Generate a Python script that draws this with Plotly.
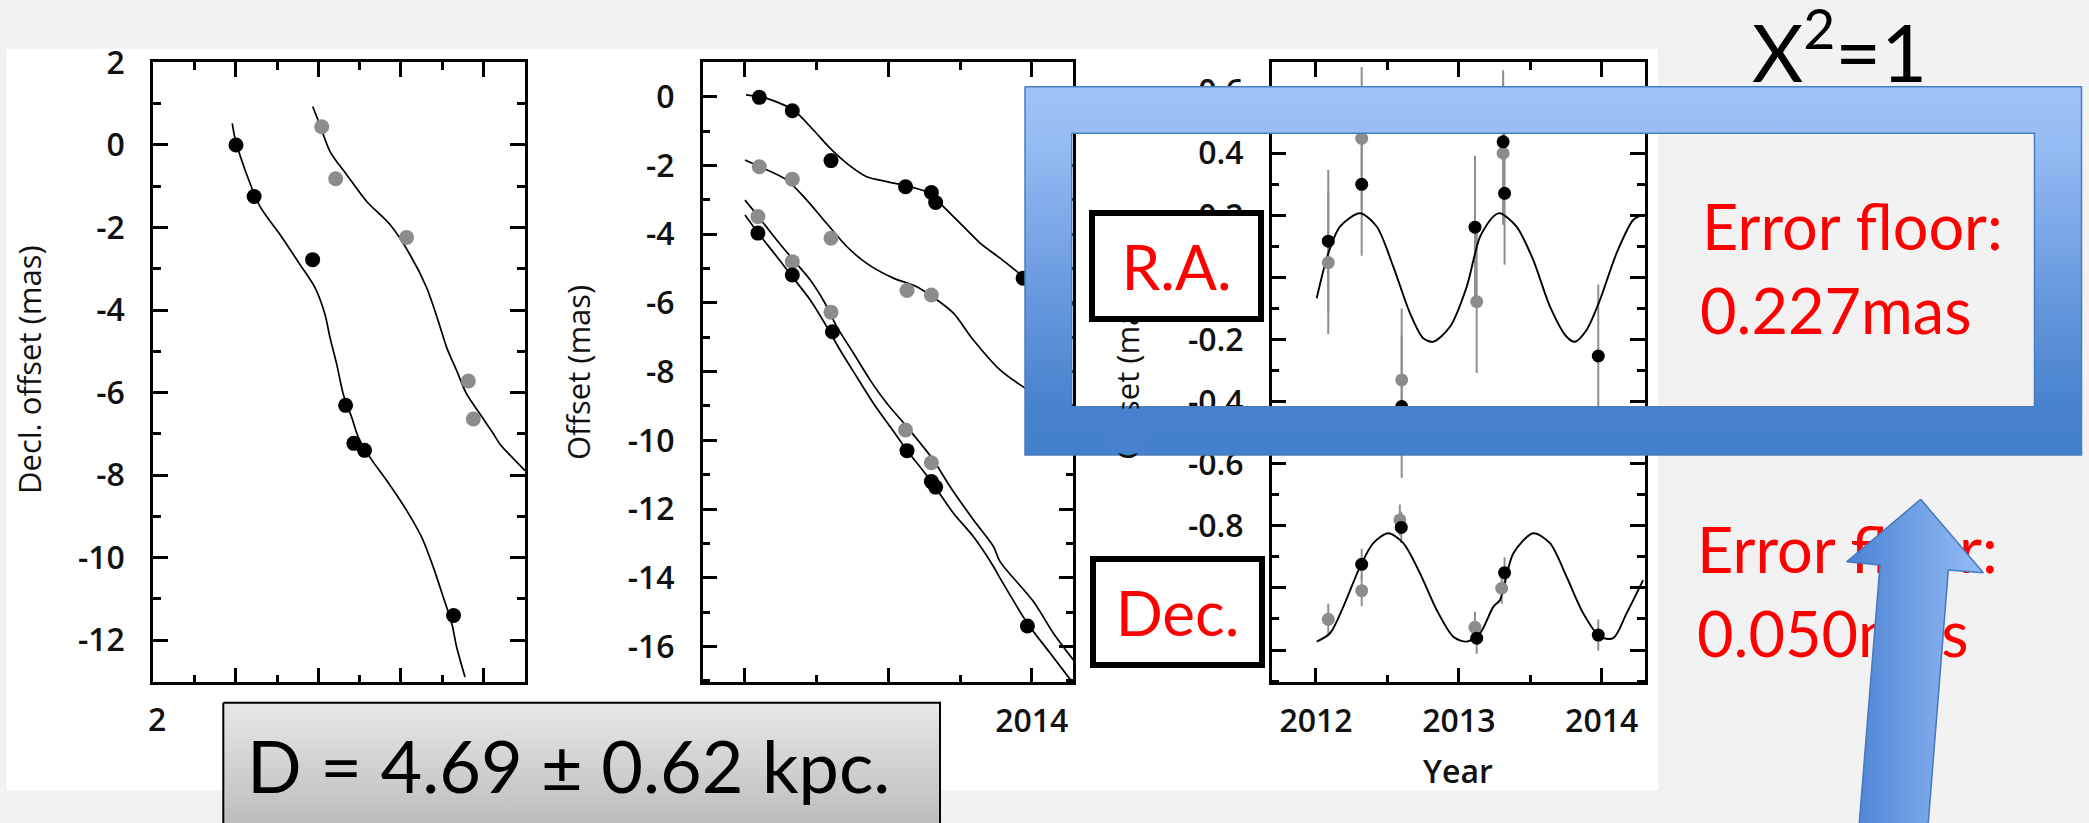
import plotly.graph_objects as go

W, H = 2089, 823

# ---------------- data ----------------
# Panel 1: sky plot (x in R.A.-offset units, y = Decl. offset, mas)
p1_black_x = [0.0, 0.22, 0.93, 1.33, 1.43, 1.56, 2.64]
p1_black_y = [0.0, -1.25, -2.78, -6.31, -7.23, -7.40, -11.40]
p1_gray_x = [1.04, 1.21, 2.07, 2.82, 2.88]
p1_gray_y = [0.44, -0.82, -2.24, -5.72, -6.64]
p1_fit_black_x = [-0.045, -0.012, 0.109, 0.291, 0.534, 0.777, 0.959, 1.080, 1.141, 1.222, 1.302,
                  1.404, 1.484, 1.626, 1.829, 2.072, 2.254, 2.394, 2.516, 2.618, 2.678, 2.779]
p1_fit_black_y = [0.52, 0.16, -0.60, -1.49, -2.17, -2.90, -3.46, -4.11, -4.67, -5.31, -6.04,
                  -6.60, -7.08, -7.57, -8.13, -8.86, -9.51, -10.23, -10.96, -11.59, -12.17, -12.89]
p1_fit_gray_x = [0.931, 1.019, 1.141, 1.343, 1.586, 1.869, 2.112, 2.314, 2.455, 2.557, 2.678,
                 2.800, 2.961, 3.123, 3.204, 3.507]
p1_fit_gray_y = [0.93, 0.48, -0.16, -0.72, -1.37, -1.93, -2.66, -3.46, -4.27, -4.91, -5.47,
                 -6.04, -6.52, -7.00, -7.25, -7.89]
p1_y_ticks = [2, 0, -2, -4, -6, -8, -10, -12]
p1_y_ticklabels = ["2", "0", "-2", "-4", "-6", "-8", "-10", "-12"]
p1_x_ticks = [0, 1, 2, 3]
p1_x_label = "2"

# Panel 2: offsets vs time
p2_t_black1 = [2012.10, 2012.33, 2012.60, 2013.12, 2013.30, 2013.33, 2013.94]
p2_y_black1 = [-0.02, -0.41, -1.86, -2.62, -2.79, -3.08, -5.28]
p2_t_gray2 = [2012.10, 2012.33, 2012.60, 2013.13, 2013.30]
p2_y_gray2 = [-2.04, -2.40, -4.12, -5.64, -5.77]
p2_t_gray3 = [2012.09, 2012.33, 2012.60, 2013.12, 2013.30]
p2_y_gray3 = [-3.49, -4.80, -6.27, -9.70, -10.65]
p2_t_black4 = [2012.09, 2012.33, 2012.61, 2013.13, 2013.30, 2013.33, 2013.97]
p2_y_black4 = [-3.97, -5.19, -6.84, -10.30, -11.20, -11.36, -15.40]
p2_fit1_t = [2012.007, 2012.151, 2012.337, 2012.477, 2012.593, 2012.710, 2012.849, 2012.989,
             2013.151, 2013.291, 2013.384, 2013.500, 2013.640, 2013.779, 2013.954, 2014.128, 2014.29]
p2_fit1_y = [0.05, -0.05, -0.39, -0.97, -1.50, -1.94, -2.33, -2.47,
             -2.62, -2.81, -3.20, -3.68, -4.26, -4.70, -5.27, -5.77, -6.06]
p2_fit2_t = [2012.0, 2012.105, 2012.291, 2012.431, 2012.570, 2012.710, 2012.849, 2013.035,
             2013.198, 2013.338, 2013.454, 2013.593, 2013.779, 2013.954, 2014.29]
p2_fit2_y = [-1.84, -2.04, -2.42, -3.01, -3.69, -4.36, -4.85, -5.28,
             -5.53, -5.91, -6.30, -7.08, -7.95, -8.48, -9.3]
p2_fit3_t = [2012.0, 2012.093, 2012.221, 2012.337, 2012.454, 2012.558, 2012.640, 2012.756,
             2012.872, 2012.989, 2013.128, 2013.314, 2013.431, 2013.593, 2013.733, 2013.779,
             2014.012, 2014.151, 2014.291]
p2_fit3_y = [-3.01, -3.49, -4.17, -4.75, -5.33, -6.01, -6.69, -7.46,
             -8.24, -8.92, -9.60, -10.57, -11.35, -12.31, -13.09, -13.53,
             -14.69, -15.61, -16.39]
p2_fit4_t = [2012.0, 2012.093, 2012.221, 2012.330, 2012.454, 2012.570, 2012.663, 2012.779,
             2012.895, 2013.012, 2013.128, 2013.291, 2013.454, 2013.593, 2013.733, 2013.779,
             2013.970, 2014.128, 2014.280]
p2_fit4_y = [-3.44, -3.97, -4.65, -5.24, -5.91, -6.69, -7.37, -8.15,
             -8.92, -9.60, -10.28, -11.15, -12.12, -12.80, -13.67, -14.01,
             -15.32, -16.19, -17.02]
p2_y_ticks = [0, -2, -4, -6, -8, -10, -12, -14, -16]
p2_y_ticklabels = ["0", "-2", "-4", "-6", "-8", "-10", "-12", "-14", "-16"]

# Panel 3: parallax residuals (R.A. and Dec.)
year_ticks = [2012, 2013, 2014]
year_ticklabels = ["2012", "2013", "2014"]
p3_ra_black_t = [2012.086, 2012.32, 2012.60, 2013.113, 2013.31, 2013.32, 2013.976]
p3_ra_black_y = [0.117, 0.30, -0.416, 0.162, 0.437, 0.271, -0.253]
p3_ra_black_err = [0.23, 0.23, 0.23, 0.23, 0.23, 0.23, 0.23]
p3_ra_gray_t = [2012.086, 2012.32, 2012.60, 2013.125, 2013.31]
p3_ra_gray_y = [0.048, 0.448, -0.330, -0.078, 0.40]
p3_ra_gray_err = [0.23, 0.23, 0.23, 0.23, 0.23]
p3_dec_gray_t = [2012.086, 2012.32, 2012.587, 2013.113, 2013.30]
p3_dec_gray_y = [-1.101, -1.009, -0.781, -1.127, -1.001]
p3_dec_gray_err = [0.05, 0.05, 0.05, 0.05, 0.05]
p3_dec_black_t = [2012.32, 2012.597, 2013.125, 2013.32, 2013.976]
p3_dec_black_y = [-0.924, -0.805, -1.162, -0.951, -1.152]
p3_dec_black_err = [0.05, 0.05, 0.05, 0.05, 0.05]
p3_ra_fit_t = [2012.005, 2012.086, 2012.168, 2012.308, 2012.425, 2012.541, 2012.658, 2012.751,
               2012.821, 2012.938, 2013.055, 2013.148, 2013.241, 2013.288, 2013.404, 2013.521,
               2013.638, 2013.754, 2013.812, 2013.894, 2013.987, 2014.104, 2014.220, 2014.279]
p3_ra_fit_y = [-0.067, 0.078, 0.164, 0.207, 0.164, 0.035, -0.115, -0.196,
               -0.207, -0.159, -0.030, 0.131, 0.196, 0.207, 0.164, 0.056,
               -0.094, -0.191, -0.207, -0.169, -0.073, 0.078, 0.185, 0.201]
p3_dec_fit_t = [2012.005, 2012.098, 2012.191, 2012.308, 2012.401, 2012.506, 2012.611, 2012.728,
                2012.845, 2012.961, 2013.055, 2013.148, 2013.241, 2013.288, 2013.381, 2013.521,
                2013.638, 2013.754, 2013.871, 2013.987, 2014.080, 2014.174, 2014.290]
p3_dec_fit_y = [-1.173, -1.146, -1.061, -0.932, -0.856, -0.824, -0.856, -0.953,
                -1.071, -1.157, -1.173, -1.146, -1.061, -1.039, -0.889, -0.824,
                -0.856, -0.964, -1.082, -1.157, -1.162, -1.082, -0.975]
p3_y_ticks = [0.6, 0.4, 0.2, 0, -0.2, -0.4, -0.6, -0.8, -1.0, -1.2]
p3_y_ticklabels = ["0.6", "0.4", "0.2", "0", "-0.2", "-0.4", "-0.6", "-0.8", "-1.0", "-1.2"]

# slide texts
txt_chi = "X<sup>2</sup>=1"
txt_ra = "R.A."
txt_dec = "Dec."
txt_floor = "Error floor:"
txt_floor_ra = "0.227mas"
txt_floor_dec = "0.050mas"
txt_dist = "D = 4.69 ± 0.62 kpc."

# ---------------- styles / geometry (pixels) ----------------
BLACK = "#000000"
GRAY = "#8c8c8c"
RED = "#ff0000"
TICKFONT = dict(family="Open Sans", size=32, color="#111111", weight=600)
TITLEFONT = dict(family="Open Sans", size=31, color="#111111")
SLIDEFONT = "Lato"


def xdom(a, b):
    return [a / W, b / W]


def ydom(top, bottom):
    return [1 - bottom / H, 1 - top / H]


def px(x):
    return x / W


def py(y):
    return 1 - y / H


def axis_style(**kw):
    d = dict(showline=True, linecolor="black", linewidth=2.5, mirror="ticks",
             ticks="inside", ticklen=15, tickwidth=2.5, tickcolor="black",
             showgrid=False, zeroline=False, tickfont=TICKFONT, fixedrange=True,
             automargin=False)
    d.update(kw)
    return d


FIT = dict(color="black", width=1.7, shape="spline", smoothing=0.8)

fig = go.Figure()

# ---- panel 1 ----
fig.add_trace(go.Scatter(x=p1_fit_black_x, y=p1_fit_black_y, mode="lines", line=FIT, xaxis="x", yaxis="y"))
fig.add_trace(go.Scatter(x=p1_fit_gray_x, y=p1_fit_gray_y, mode="lines", line=FIT, xaxis="x", yaxis="y"))
fig.add_trace(go.Scatter(x=p1_gray_x, y=p1_gray_y, mode="markers",
                         marker=dict(color=GRAY, size=15), xaxis="x", yaxis="y"))
fig.add_trace(go.Scatter(x=p1_black_x, y=p1_black_y, mode="markers",
                         marker=dict(color=BLACK, size=15), xaxis="x", yaxis="y"))

# ---- panel 2 ----
for t, y in [(p2_fit1_t, p2_fit1_y), (p2_fit2_t, p2_fit2_y), (p2_fit3_t, p2_fit3_y), (p2_fit4_t, p2_fit4_y)]:
    fig.add_trace(go.Scatter(x=t, y=y, mode="lines", line=FIT, xaxis="x2", yaxis="y2"))
for t, y, c in [(p2_t_gray2, p2_y_gray2, GRAY), (p2_t_gray3, p2_y_gray3, GRAY),
                (p2_t_black1, p2_y_black1, BLACK), (p2_t_black4, p2_y_black4, BLACK)]:
    fig.add_trace(go.Scatter(x=t, y=y, mode="markers", marker=dict(color=c, size=15),
                             xaxis="x2", yaxis="y2"))

# ---- panel 3 ----
for t, y, e in [(p3_ra_gray_t, p3_ra_gray_y, p3_ra_gray_err), (p3_ra_black_t, p3_ra_black_y, p3_ra_black_err),
                (p3_dec_gray_t, p3_dec_gray_y, p3_dec_gray_err), (p3_dec_black_t, p3_dec_black_y, p3_dec_black_err)]:
    fig.add_trace(go.Scatter(x=t, y=y, mode="markers", marker=dict(size=1, opacity=0),
                             error_y=dict(type="data", array=e, visible=True, color="#8f8f8f",
                                          thickness=2, width=0),
                             xaxis="x3", yaxis="y3"))
for t, y in [(p3_ra_fit_t, p3_ra_fit_y), (p3_dec_fit_t, p3_dec_fit_y)]:
    fig.add_trace(go.Scatter(x=t, y=y, mode="lines", line=dict(FIT, width=1.9), xaxis="x3", yaxis="y3"))
for t, y, c in [(p3_ra_gray_t, p3_ra_gray_y, GRAY), (p3_dec_gray_t, p3_dec_gray_y, GRAY),
                (p3_ra_black_t, p3_ra_black_y, BLACK), (p3_dec_black_t, p3_dec_black_y, BLACK)]:
    fig.add_trace(go.Scatter(x=t, y=y, mode="markers", marker=dict(color=c, size=13),
                             xaxis="x3", yaxis="y3"))

# ---- slide overlay (pixel coordinates on x4/y4) ----
# grey distance box
dbox_x = [223.3, 940, 940, 223.3, 223.3]
dbox_y = [702.7, 702.7, 830, 830, 702.7]
fig.add_trace(go.Scatter(x=dbox_x, y=dbox_y, mode="lines", fill="toself",
                         fillgradient=dict(type="vertical", start=702.7, stop=823,
                                           colorscale=[[0, "#e8e8e8"], [1, "#bdbdbd"]]),
                         line=dict(color="black", width=2), xaxis="x4", yaxis="y4"))

# blue frame (outer clockwise, inner counter-clockwise -> hole)
fo = (1025, 86.7, 2081.5, 455)
fi = (1071.7, 133.3, 2034.5, 406.7)
frame_x = [fo[0], fo[2], fo[2], fo[0], fo[0], fi[0], fi[0], fi[2], fi[2], fi[0], fo[0]]
frame_y = [fo[1], fo[1], fo[3], fo[3], fo[1], fi[1], fi[3], fi[3], fi[1], fi[1], fo[1]]
fig.add_trace(go.Scatter(x=frame_x, y=frame_y, mode="lines", fill="toself",
                         fillgradient=dict(type="vertical", start=fo[1], stop=fo[3],
                                           colorscale=[[0, "#9ec4f8"], [0.15, "#96bcf4"], [0.5, "#6e9ee1"],
                                                       [0.87, "#4782ce"], [1, "#4380cb"]]),
                         line=dict(width=0, simplify=False), xaxis="x4", yaxis="y4"))
for r in (fo, fi):
    fig.add_trace(go.Scatter(x=[r[0], r[2], r[2], r[0], r[0]], y=[r[1], r[1], r[3], r[3], r[1]],
                             mode="lines", line=dict(color="#4a7ebb", width=1.5),
                             xaxis="x4", yaxis="y4"))

# second error-floor text (under the arrow)
fig.add_trace(go.Scatter(x=[1697, 1697], y=[557.2, 641.3], mode="text",
                         text=[txt_floor, txt_floor_dec], textposition="middle right",
                         textfont=dict(family=SLIDEFONT, size=63, color=RED),
                         xaxis="x4", yaxis="y4"))

# arrow
arrow_x = [1920.7, 1983.3, 1948.3, 1927.7, 1858.7, 1880, 1846.7, 1920.7]
arrow_y = [499.3, 572.7, 570, 830, 830, 565, 561.7, 499.3]
fig.add_trace(go.Scatter(x=arrow_x, y=arrow_y, mode="lines", fill="toself",
                         fillgradient=dict(type="horizontal", start=1846.7, stop=1983.3,
                                           colorscale=[[0, "#4a82d3"], [1, "#96bdf5"]]),
                         line=dict(color="#4677c0", width=1.5), xaxis="x4", yaxis="y4"))

# ---------------- layout ----------------
top, bottom = 62.3, 682.3
minor_common = dict(ticks="inside", ticklen=8, tickwidth=2.5, tickcolor="black", showgrid=False)

fig.update_layout(
    width=W, height=H, margin=dict(l=0, r=0, t=0, b=0, autoexpand=False),
    paper_bgcolor="#f2f2f2", plot_bgcolor="rgba(0,0,0,0)",
    showlegend=False, hovermode=False,
    xaxis=axis_style(domain=xdom(153, 525), range=[-1.007, 3.507], anchor="y",
                     tickmode="array", tickvals=p1_x_ticks, showticklabels=False,
                     minor=dict(tickmode="array", tickvals=[-0.5, 0.5, 1.5, 2.5, 3.5], **minor_common)),
    yaxis=axis_style(domain=ydom(top, bottom), range=[-13.02, 2.002], anchor="x",
                     tickmode="array", tickvals=p1_y_ticks, ticktext=p1_y_ticklabels,
                     ticklabelstandoff=19,
                     minor=dict(tickmode="array", tickvals=[1, -1, -3, -5, -7, -9, -11, -13], **minor_common)),
    xaxis2=axis_style(domain=xdom(702.7, 1073.3), range=[2011.705, 2014.29], anchor="y2",
                      tickmode="array", tickvals=year_ticks, ticktext=year_ticklabels,
                      ticklabelstandoff=9,
                      minor=dict(tickmode="array", tickvals=[2012.5, 2013.5], **minor_common)),
    yaxis2=axis_style(domain=ydom(top, bottom), range=[-17.04, 1.0], anchor="x2",
                      tickmode="array", tickvals=p2_y_ticks, ticktext=p2_y_ticklabels,
                      ticklabelstandoff=19,
                      minor=dict(tickmode="array", tickvals=[1, -1, -3, -5, -7, -9, -11, -13, -15, -17],
                                 **minor_common)),
    xaxis3=axis_style(domain=xdom(1271.7, 1645), range=[2011.69, 2014.303], anchor="y3",
                      tickmode="array", tickvals=year_ticks, ticktext=year_ticklabels,
                      ticklabelstandoff=9,
                      minor=dict(tickmode="array", tickvals=[2012.5, 2013.5], **minor_common)),
    yaxis3=axis_style(domain=ydom(top, bottom), range=[-1.304, 0.693], anchor="x3",
                      tickmode="array", tickvals=p3_y_ticks, ticktext=p3_y_ticklabels,
                      ticklabelstandoff=19,
                      minor=dict(tickmode="array",
                                 tickvals=[0.5, 0.3, 0.1, -0.1, -0.3, -0.5, -0.7, -0.9, -1.1, -1.3],
                                 **minor_common)),
    xaxis4=dict(domain=[0, 1], range=[0, W], visible=False, fixedrange=True, anchor="y4", automargin=False),
    yaxis4=dict(domain=[0, 1], range=[H, 0], visible=False, fixedrange=True, anchor="x4", automargin=False),
)

# white figure area behind the panels
fig.add_shape(type="rect", xref="paper", yref="paper", x0=px(6.7), x1=px(1658), y0=py(790), y1=py(49),
              fillcolor="white", line=dict(width=0), layer="below")

ann = []
ann.append(dict(text=p1_x_label, x=px(156.7), y=py(718), font=TICKFONT))
ann.append(dict(text="Decl. offset (mas)", x=px(29), y=py(370), textangle=-90, font=TITLEFONT))
ann.append(dict(text="Offset (mas)", x=px(578), y=py(373), textangle=-90, font=TITLEFONT))
ann.append(dict(text="Offset (mas)", x=px(1127), y=py(373), textangle=-90, font=TITLEFONT))
# part of the blue band that lies over the third panel's title
ann.append(dict(text="&nbsp;", x=px(1127), y=py(431), width=44, height=44, bgcolor="#4581cc",
                borderpad=0, font=dict(size=10)))
ann.append(dict(text="Year", x=px(1458), y=py(770), font=TICKFONT))
ann.append(dict(text=txt_ra, x=px(1176.7), y=py(265.5), width=163, height=100, bgcolor="white",
                bordercolor="black", borderwidth=6, borderpad=0,
                font=dict(family=SLIDEFONT, size=62, color=RED)))
ann.append(dict(text=txt_dec, x=px(1177.5), y=py(611.7), width=163, height=100, bgcolor="white",
                bordercolor="black", borderwidth=6, borderpad=0,
                font=dict(family=SLIDEFONT, size=62, color=RED)))
ann.append(dict(text=txt_dist, x=px(568), y=py(765), font=dict(family=SLIDEFONT, size=72, color="black")))
ann.append(dict(text=txt_chi, x=px(1839), y=py(47), font=dict(family=SLIDEFONT, size=79, color="black")))
ann.append(dict(text=txt_floor, x=px(1700), y=py(225), xanchor="left",
                font=dict(family=SLIDEFONT, size=63, color=RED)))
ann.append(dict(text=txt_floor_ra, x=px(1698), y=py(309.5), xanchor="left",
                font=dict(family=SLIDEFONT, size=63, color=RED)))
for a in ann:
    a.setdefault("xref", "paper")
    a.setdefault("yref", "paper")
    a.setdefault("showarrow", False)
    a.setdefault("xanchor", "center")
    a.setdefault("yanchor", "middle")
fig.update_layout(annotations=ann)

fig.write_html("out.html", post_script="document.body.style.margin='0';document.body.style.overflow='hidden';")
